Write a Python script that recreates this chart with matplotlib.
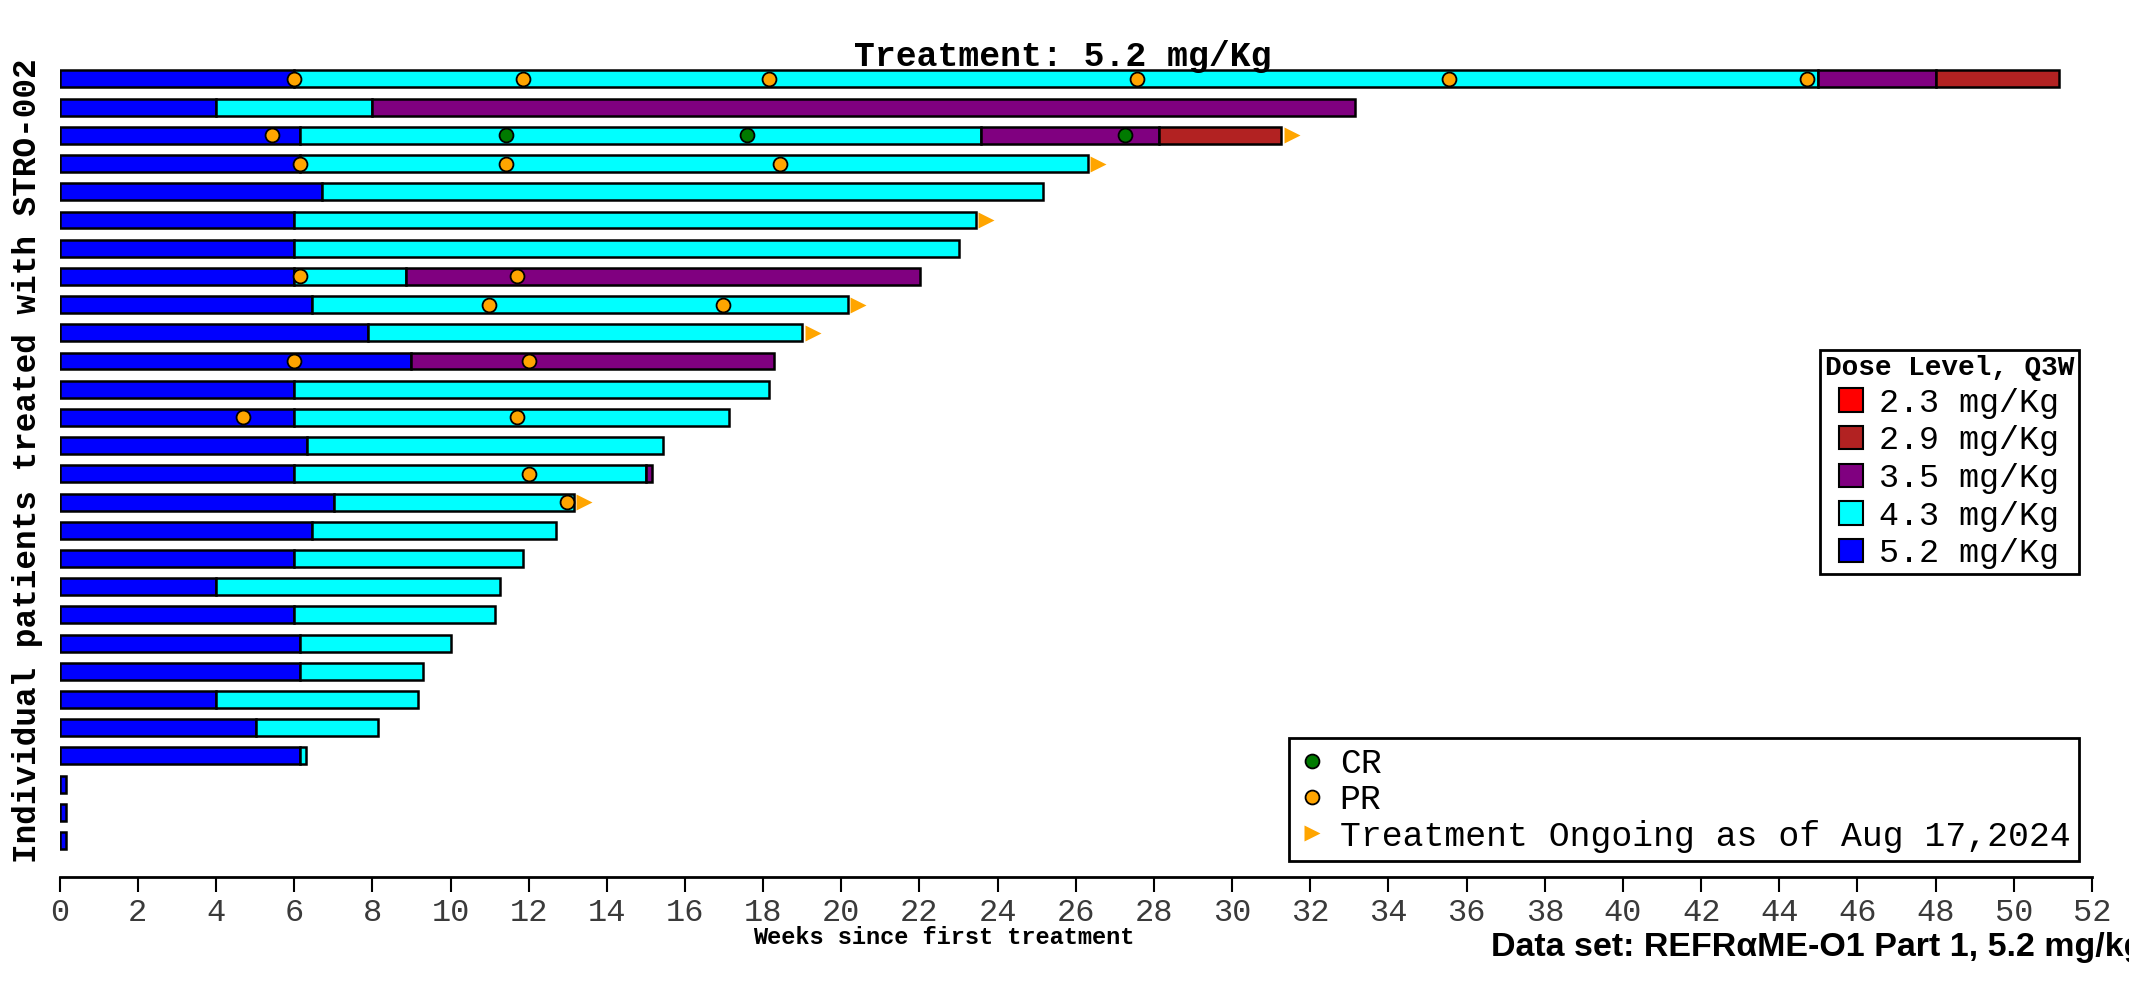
import numpy as np
import matplotlib
matplotlib.use('Agg')
import matplotlib.pyplot as plt
from matplotlib.patches import Patch
from matplotlib.lines import Line2D

plt.rcParams['font.family'] = ['Liberation Mono', 'DejaVu Sans Mono']

# dose levels and colours
dose_labels = ['2.3 mg/Kg', '2.9 mg/Kg', '3.5 mg/Kg', '4.3 mg/Kg', '5.2 mg/Kg']
dose_colors = ['#FF0000', '#B22222', '#800080', '#00FFFF', '#0000FF']

# one entry per patient, top to bottom: segment end weeks and dose index
seg_ends = [
    [6.0, 45.0, 48.0, 51.15],
    [4.0, 8.0, 33.15],
    [6.16, 23.57, 28.13, 31.26],
    [6.16, 26.3],
    [6.71, 25.16],
    [6.0, 23.44],
    [6.0, 23.0],
    [6.0, 8.85, 22.02],
    [6.45, 20.16],
    [7.88, 19.0],
    [9.0, 18.28],
    [6.0, 18.14],
    [6.0, 17.13],
    [6.32, 15.43],
    [6.0, 15.0, 15.16],
    [7.02, 13.15],
    [6.45, 12.71],
    [6.0, 11.86],
    [4.0, 11.27],
    [6.0, 11.13],
    [6.16, 10.0],
    [6.16, 9.3],
    [4.0, 9.17],
    [5.02, 8.14],
    [6.16, 6.31],
    [0.15],
    [0.15],
    [0.15],
]
seg_doses = [
    [4, 3, 2, 1],
    [4, 3, 2],
    [4, 3, 2, 1],
    [4, 3],
    [4, 3],
    [4, 3],
    [4, 3],
    [4, 3, 2],
    [4, 3],
    [4, 3],
    [4, 2],
    [4, 3],
    [4, 3],
    [4, 3],
    [4, 3, 2],
    [4, 3],
    [4, 3],
    [4, 3],
    [4, 3],
    [4, 3],
    [4, 3],
    [4, 3],
    [4, 3],
    [4, 3],
    [4, 3],
    [4],
    [4],
    [4],
]
pr_weeks = [
    [6.0, 11.85, 18.15, 27.57, 35.56, 44.71],
    [],
    [5.42],
    [6.16, 11.42, 18.42],
    [], [], [],
    [6.16, 11.7],
    [10.99, 16.98],
    [],
    [6.0, 12.0],
    [],
    [4.7, 11.7],
    [],
    [12.0],
    [12.99],
    [], [], [], [], [], [], [], [], [], [], [], [],
]
cr_weeks = [
    [], [],
    [11.42, 17.58, 27.27],
    [], [], [], [], [], [], [], [], [], [], [], [], [],
    [], [], [], [], [], [], [], [], [], [], [], [],
]
ongoing = [False, False, True, True, False, True, False, False, True, True,
           False, False, False, False, False, True, False, False, False, False,
           False, False, False, False, False, False, False, False]

xticks = list(range(0, 53, 2))

fig = plt.figure(figsize=(21.29, 9.86), dpi=100)
ax = fig.add_axes([0.02804, 0.1105, 0.95456, 0.8285])

n = len(seg_ends)
for i in range(n):
    y = n - 1 - i
    start = 0.0
    for end, d in zip(seg_ends[i], seg_doses[i]):
        ax.barh(y, end - start, left=start, height=0.6, color=dose_colors[d],
                edgecolor='black', linewidth=1.8, zorder=2)
        start = end
    for w in pr_weeks[i]:
        ax.plot(w, y, 'o', color='#FFA500', mec='black', mew=1.3, ms=10, zorder=4)
    for w in cr_weeks[i]:
        ax.plot(w, y, 'o', color='#007A00', mec='black', mew=1.3, ms=10, zorder=4)
    if ongoing[i]:
        ax.plot(seg_ends[i][-1] + 0.27, y, '>', color='#FFA500', mec='none', ms=12, zorder=4)

ax.set_xlim(0, 52)
ax.set_ylim(-1.293, 27.666)
ax.set_xticks(xticks)
ax.set_xticklabels([str(t) for t in xticks], fontsize=23, color='#3a3a3a')
ax.tick_params(axis='x', direction='out', length=11, width=1.5, pad=4)
ax.set_yticks([])
for s in ['top', 'right', 'left']:
    ax.spines[s].set_visible(False)
ax.spines['bottom'].set_linewidth(2)

fig.text(0.499, 0.943, 'Treatment: 5.2 mg/Kg', ha='center', va='center',
         fontsize=25, fontweight='bold')
fig.text(0.0127, 0.533, 'Individual patients treated with STRO-002', rotation=90,
         ha='center', va='center', fontsize=23.5, fontweight='bold')
fig.text(0.4435, 0.049, 'Weeks since first treatment', ha='center', va='center',
         fontsize=17, fontweight='bold')
# the reference footer runs off the right edge of the image
fig.text(0.7005, 0.055, 'Data set: REFRαME-O1 Part 1, 5.2 mg/kg', ha='left', va='top',
         fontsize=24.5, fontweight='bold', family=['Liberation Sans', 'DejaVu Sans'])

dose_handles = [Patch(facecolor=c, edgecolor='black', linewidth=1.5) for c in dose_colors]
leg1 = fig.legend(dose_handles, dose_labels, loc='upper right',
                  bbox_to_anchor=(0.9765, 0.645), title='Dose Level, Q3W',
                  title_fontproperties={'weight': 'bold', 'size': 20},
                  fontsize=24, frameon=True, fancybox=False, edgecolor='black',
                  framealpha=1, handlelength=0.7, handleheight=0.7, handletextpad=0.5,
                  labelspacing=0.2, borderpad=0.15, borderaxespad=0)
leg1.get_frame().set_linewidth(2)

resp_handles = [
    Line2D([], [], marker='o', ls='none', color='#007A00', mec='black', mew=1.3, ms=10),
    Line2D([], [], marker='o', ls='none', color='#FFA500', mec='black', mew=1.3, ms=10),
    Line2D([], [], marker='>', ls='none', color='#FFA500', mec='none', ms=12),
]
leg2 = fig.legend(resp_handles, ['CR', 'PR', 'Treatment Ongoing as of Aug 17,2024'],
                  loc='upper right', bbox_to_anchor=(0.9765, 0.2515),
                  fontsize=25, frameon=True, fancybox=False, edgecolor='black',
                  framealpha=1, handlelength=0.8, handletextpad=0.4,
                  labelspacing=0.1, borderpad=0.25, borderaxespad=0)
leg2.get_frame().set_linewidth(2)

plt.savefig('out.png', dpi=100)
